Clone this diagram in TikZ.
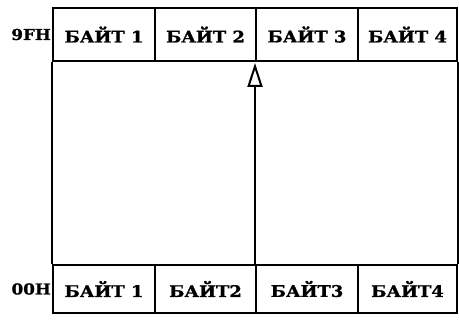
\documentclass[tikz,border=0pt]{standalone}
\usepackage{fontspec}
\setmainfont{DejaVu Serif}
\newfontfamily\heavyfont[FakeBold=1.2]{DejaVu Serif Bold}
\usetikzlibrary{arrows.meta}
\newcommand{\wtxt}[1]{\scalebox{1.12}[1]{#1}}
\begin{document}
\begin{tikzpicture}[x=1pt,y=1pt,
  cell/.style={draw, line width=2pt, inner sep=0pt, font=\fontsize{16}{16}\selectfont\heavyfont},
  topcell/.style={cell, minimum height=53pt},
  botcell/.style={cell, minimum height=48pt},
  lbl/.style={inner sep=0pt, anchor=east, font=\fontsize{15}{15}\selectfont\heavyfont},
  edge/.style={line width=2pt},
  up/.style={line width=2pt, -{Triangle[open, length=24pt, width=15pt, line width=2pt]}}]
\useasboundingbox (0,0) rectangle (459,320);
% top row
\node[topcell, minimum width=102pt] (t1) at (104,285.5) {\wtxt{БАЙТ 1}};
\node[topcell, minimum width=101pt] (t2) at (205.5,285.5) {\wtxt{БАЙТ 2}};
\node[topcell, minimum width=102pt] (t3) at (307,285.5) {\wtxt{БАЙТ 3}};
\node[topcell, minimum width=99pt] (t4) at (407.5,285.5) {\wtxt{БАЙТ 4}};
% bottom row
\node[botcell, minimum width=102pt] (b1) at (104,31) {\wtxt{БАЙТ 1}};
\node[botcell, minimum width=101pt] (b2) at (205.5,31) {\wtxt{БАЙТ2}};
\node[botcell, minimum width=102pt] (b3) at (307,31) {\wtxt{БАЙТ3}};
\node[botcell, minimum width=99pt] (b4) at (407.5,31) {\wtxt{БАЙТ4}};
% side walls
\draw[edge] (t1.south west) -- (b1.north west);
\draw[edge] (t4.south east) -- (b4.north east);
% address labels
\node[lbl] (a9) at ([xshift=-1pt]t1.west) {\wtxt{9FH}};
\node[lbl] (a0) at ([xshift=-1pt]b1.west) {\wtxt{00H}};
% arrow
\draw[up] (b3.north west) -- ([yshift=-1pt]t3.south west);
\end{tikzpicture}
\end{document}
